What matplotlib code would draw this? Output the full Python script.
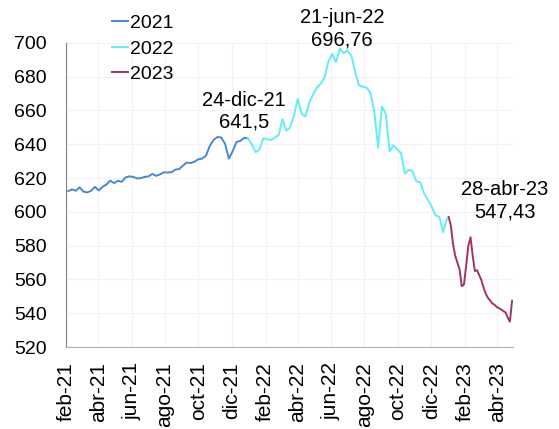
import pandas as pd
import matplotlib
matplotlib.use("Agg")
import matplotlib.pyplot as plt

plt.rcParams['font.family'] = ['Liberation Sans', 'DejaVu Sans']

# weekly values (Fridays)
dates_2021 = pd.date_range('2021-02-05', '2021-12-31', freq='W-FRI')
vals_2021 = [612.3, 613.3, 612.5, 614.5, 612.0, 611.5, 612.5, 614.8, 612.7, 614.8,
             616.2, 618.5, 617.0, 618.4, 617.8, 620.4, 621.0, 620.7, 619.8, 620.0,
             620.7, 621.0, 622.5, 621.3, 622.2, 623.4, 623.3, 623.5, 625.0, 625.3,
             627.4, 629.2, 628.9, 629.7, 631.1, 631.5, 633.2, 639.0, 642.6, 644.3,
             644.0, 640.3, 631.5, 636.0, 641.4, 642.0, 643.8, 643.5]

dates_2022 = pd.date_range('2021-12-31', '2022-12-30', freq='W-FRI')
vals_2022 = [643.5, 640.0, 635.3, 637.0, 643.6, 643.0, 642.5, 644.0, 645.5, 654.8,
             648.0, 650.0, 657.0, 667.0, 658.0, 656.5, 664.5, 669.5, 673.5, 675.8,
             679.5, 689.0, 693.5, 688.7, 696.76, 694.0, 695.5, 692.5, 683.0, 674.8,
             674.0, 673.5, 670.5, 659.0, 638.0, 662.4, 658.0, 635.7, 639.4, 637.0,
             634.7, 622.5, 625.0, 624.0, 618.0, 617.5, 611.0, 607.0, 603.0, 598.0,
             597.0, 588.0, 596.0]

# every 4 days up to 28-abr-23
dates_2023 = pd.date_range(end='2023-04-28', periods=30, freq='4D')
vals_2023 = [597.0, 592.0, 581.0, 574.0, 570.0, 566.0, 556.0, 557.0, 568.0, 580.0,
             585.0, 574.0, 565.0, 565.5, 562.5, 559.5, 555.0, 551.5, 549.0, 547.5,
             545.8, 545.0, 543.7, 543.0, 542.3, 541.3, 540.5, 537.5, 535.0, 547.43]

tick_dates = pd.date_range('2021-02-01', '2023-04-01', freq='2MS')
tick_labels = ['feb-21', 'abr-21', 'jun-21', 'ago-21', 'oct-21', 'dic-21', 'feb-22',
               'abr-22', 'jun-22', 'ago-22', 'oct-22', 'dic-22', 'feb-23', 'abr-23']

notes = [('2021-12-24', 641.5, '24-dic-21\n641,5', 0, 22),
         ('2022-06-21', 696.76, '21-jun-22\n696,76', 0, 14),
         ('2023-04-28', 547.43, '28-abr-23\n547,43', -5, 72)]

fig = plt.figure(figsize=(5.59, 4.29), dpi=100)
ax = fig.add_axes([0.118, 0.191, 0.800, 0.709])

l1, = ax.plot(dates_2021, vals_2021, color='#4a86d6', lw=1.4, label='2021')
l2, = ax.plot(dates_2022, vals_2022, color='#62ecf6', lw=1.4, label='2022')
l3, = ax.plot(dates_2023, vals_2023, color='#9e3468', lw=1.4, label='2023')

ax.set_xlim(pd.Timestamp('2021-02-01'), pd.Timestamp('2023-04-30'))
ax.set_ylim(520, 700)
ax.set_yticks(range(520, 701, 20))
ax.set_xticks(tick_dates)
ax.set_xticklabels(tick_labels, rotation=90)
ax.tick_params(axis='both', length=0)
ax.tick_params(axis='x', pad=11, labelsize=15)
ax.tick_params(axis='y', pad=14, labelsize=14)
ax.grid(True, color='#f2f2f2', lw=0.8)
ax.set_axisbelow(True)

for s in ['top', 'right']:
    ax.spines[s].set_visible(False)
ax.spines['left'].set_color('#808080')
ax.spines['bottom'].set_color('#b0b0b0')

for d, v, txt, dx, dy in notes:
    ax.annotate(txt, xy=(pd.Timestamp(d), v), xytext=(dx, dy),
                textcoords='offset points', ha='center', va='center',
                fontsize=14.5, linespacing=1.2)

fig.legend(handles=[l1, l2, l3], loc='upper left', bbox_to_anchor=(0.187, 0.984),
           frameon=False, fontsize=14, handlelength=0.8, handletextpad=0.1,
           labelspacing=0.4, borderaxespad=0)

fig.savefig('out.png', dpi=100)
